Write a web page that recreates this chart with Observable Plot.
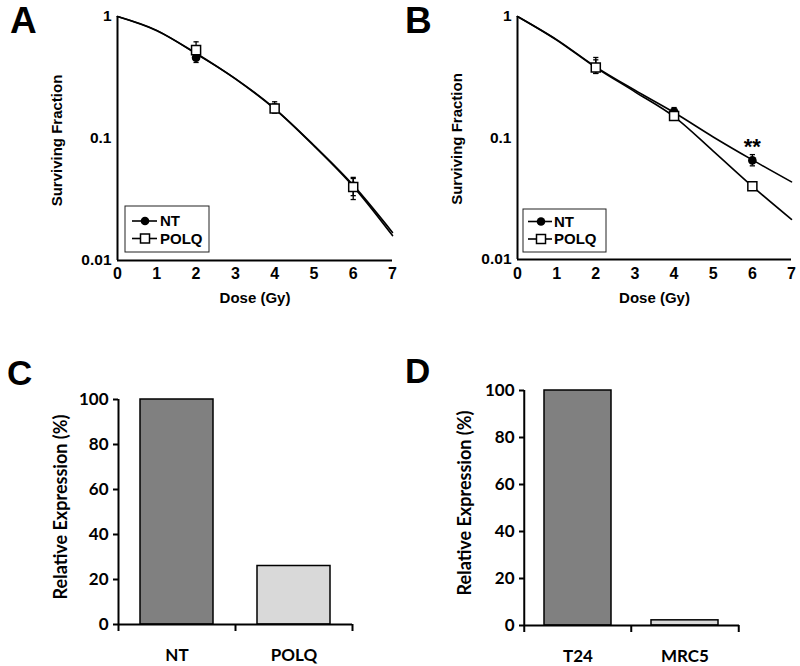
<!DOCTYPE html>
<html><head><meta charset="utf-8">
<script src="https://cdn.jsdelivr.net/npm/d3@7"></script>
<script src="https://cdn.jsdelivr.net/npm/@observablehq/plot@0.6"></script>
<style>
body{margin:0;background:#fff;}
#fig{position:relative;width:800px;height:666px;overflow:hidden;background:#fff;}
.panel{position:absolute;}
.letter{position:absolute;font-family:"Liberation Sans",Arial,sans-serif;font-weight:bold;line-height:1;color:#000;}
</style></head><body><div id="fig"></div>
<script>
// ---------- data ----------
const doses = [2, 4, 6];
const fitDoses = [0, 1, 2, 3, 4, 5, 6, 7];
const groups = ["NT", "POLQ"];
const doseTicks = [0, 1, 2, 3, 4, 5, 6, 7];
const sfTicks = [0.01, 0.1, 1];

// Panel A (surviving fraction)
const aNT = [0.46, 0.176, 0.041];
const aNTLo = [0.42, 0.162, 0.034];
const aNTHi = [0.50, 0.192, 0.047];
const aPOLQ = [0.53, 0.176, 0.040];
const aPOLQLo = [0.46, 0.162, 0.0316];
const aPOLQHi = [0.62, 0.200, 0.048];
const aNTFit = [1, 0.77, 0.495, 0.31, 0.176, 0.088, 0.0415, 0.0170];
const aPOLQFit = [1, 0.765, 0.50, 0.308, 0.175, 0.087, 0.0405, 0.0160];

// Panel B (surviving fraction)
const bNT = [0.38, 0.165, 0.0654];
const bNTLo = [0.34, 0.152, 0.059];
const bNTHi = [0.44, 0.178, 0.073];
const bPOLQ = [0.38, 0.152, 0.040];
const bPOLQLo = [0.34, 0.142, 0.038];
const bPOLQHi = [0.46, 0.162, 0.042];
const bNTFit = [1, 0.645, 0.385, 0.247, 0.162, 0.102, 0.066, 0.0435];
const bPOLQFit = [1, 0.64, 0.38, 0.24, 0.150, 0.078, 0.040, 0.0214];
const bSignif = "**";

// Panels C and D (relative expression)
const cCats = ["NT", "POLQ"];
const cValues = [100, 26];
const dCats = ["T24", "MRC5"];
const dValues = [100, 2.2];
const barFills = ["#808080", "#d9d9d9"];
const pctTicks = [0, 20, 40, 60, 80, 100];

// ---------- helpers ----------
const fig = document.getElementById("fig");
const capSymbol = {draw(ctx) { ctx.moveTo(-2.6, 0); ctx.lineTo(2.6, 0); }};

function panel(left, top, node) {
  const d = document.createElement("div");
  d.className = "panel";
  d.style.left = left + "px"; d.style.top = top + "px";
  d.appendChild(node);
  fig.appendChild(d);
  return d;
}
function letter(ch, left, top, size) {
  const d = document.createElement("div");
  d.className = "letter";
  d.textContent = ch;
  d.style.left = left + "px"; d.style.top = top + "px"; d.style.fontSize = size + "px";
  fig.appendChild(d);
}

function survival(o) {
  const fitRows = [];
  o.fits.forEach((f, gi) => fitDoses.forEach((d, i) => fitRows.push({group: groups[gi], dose: d, sf: f[i]})));
  const pts = [];
  o.pts.forEach((p, gi) => doses.forEach((d, i) => pts.push({group: groups[gi], dose: d, sf: p.v[i], lo: p.lo[i], hi: p.hi[i]})));
  const marks = [
    Plot.line(fitRows, {x: "dose", y: "sf", z: "group", curve: "monotone-x", stroke: "black", strokeWidth: 1.6}),
    Plot.ruleX(pts, {x: "dose", y1: "lo", y2: "hi", stroke: "black", strokeWidth: 1.3}),
    Plot.dot(pts, {x: "dose", y: "lo", symbol: capSymbol, fill: "none", stroke: "black", strokeWidth: 1.3}),
    Plot.dot(pts, {x: "dose", y: "hi", symbol: capSymbol, fill: "none", stroke: "black", strokeWidth: 1.3}),
    Plot.dot(pts.filter(d => d.group === "NT"), {x: "dose", y: "sf", r: 4.3, fill: "black", stroke: "none"}),
    Plot.dot(pts.filter(d => d.group === "POLQ"), {x: "dose", y: "sf", symbol: "square", r: 5.1, fill: "white", stroke: "black", strokeWidth: 1.5}),
    Plot.ruleX([0], {stroke: "black", strokeWidth: 2}),
    Plot.ruleY([0.01], {stroke: "black", strokeWidth: 2}),
    Plot.axisX({ticks: doseTicks, tickSize: 0, tickPadding: o.xPad, fontSize: 16, tickFormat: d => String(d), label: null}),
    Plot.axisY({ticks: sfTicks, tickSize: 0, tickPadding: 6, fontSize: 15.5, tickFormat: d => String(d), label: null}),
    Plot.text(["Surviving Fraction"], {frameAnchor: "left", rotate: -90, dx: -60, dy: o.yLabDy, fontSize: 15, textAnchor: "middle", lineAnchor: "middle"}),
    Plot.text(["Dose (Gy)"], {frameAnchor: "bottom", dy: o.xLabDy, fontSize: 15, textAnchor: "middle", lineAnchor: "middle"})
  ];
  if (o.star) {
    marks.push(Plot.text(o.star, {x: "dose", y: "sf", text: "label", fontSize: 22, letterSpacing: 1.5, lineAnchor: "middle", dy: -8}));
  }
  const svg = Plot.plot({
    width: 400, height: 320,
    marginLeft: o.ml, marginRight: o.mr, marginTop: o.mt, marginBottom: o.mb,
    style: {fontFamily: "'Liberation Sans', Arial, sans-serif", fontSize: "15px", fontWeight: "bold", color: "black", background: "transparent", overflow: "visible"},
    x: {domain: [0, 7], label: null},
    y: {type: "log", domain: [0.01, 1], label: null},
    marks
  });
  const p = panel(o.left, 0, svg);
  // legend
  const lg = o.legend;
  const s = d3.create("svg").attr("width", 400).attr("height", 320)
    .style("position", "absolute").style("left", "0px").style("top", "0px").style("overflow", "visible");
  s.append("rect").attr("x", lg.x0).attr("y", lg.y0).attr("width", lg.w).attr("height", lg.h)
    .attr("fill", "white").attr("stroke", "#222").attr("stroke-width", 1);
  groups.forEach((g, i) => {
    const y = lg.rows[i];
    s.append("line").attr("x1", lg.l1).attr("x2", lg.l2).attr("y1", y).attr("y2", y).attr("stroke", "black").attr("stroke-width", 1.6);
    if (g === "NT") s.append("circle").attr("cx", lg.mx).attr("cy", y).attr("r", 4.3).attr("fill", "black");
    else s.append("rect").attr("x", lg.mx - 4.5).attr("y", y - 4.5).attr("width", 9).attr("height", 9).attr("fill", "white").attr("stroke", "black").attr("stroke-width", 1.5);
    s.append("text").attr("x", lg.tx).attr("y", y).attr("dy", "0.36em").text(g)
      .attr("font-family", "'Liberation Sans', Arial, sans-serif").attr("font-size", 15).attr("font-weight", "bold");
  });
  p.appendChild(s.node());
}

function bars(o) {
  const rows = o.cats.map((c, i) => ({cat: c, value: o.values[i], fill: barFills[i]}));
  const step = (400 - o.ml - o.mr) / o.cats.length;
  const svg = Plot.plot({
    width: 400, height: 346,
    marginLeft: o.ml, marginRight: o.mr, marginTop: o.mt, marginBottom: o.mb,
    style: {fontFamily: "Lato, 'Open Sans', sans-serif", fontSize: "17px", fontWeight: "bold", color: "black", background: "transparent", overflow: "visible"},
    x: {domain: o.cats, paddingInner: o.pad, paddingOuter: o.pad / 2, label: null},
    y: {domain: [0, 100], label: null},
    color: {type: "identity"},
    marks: [
      Plot.barY(rows, {x: "cat", y: "value", fill: "fill", stroke: "black", strokeWidth: 1.5}),
      Plot.ruleY([0], {stroke: "black", strokeWidth: 2}),
      Plot.ruleX([o.cats[0]], {x: d => d, dx: -step / 2, y1: 0, y2: 100, stroke: "black", strokeWidth: 2}),
      Plot.axisY({ticks: pctTicks, tickSize: 5, tickPadding: 5, strokeWidth: 2, label: null}),
      Plot.axisX({tickSize: 0, tickPadding: 24, label: null}),
      Plot.axisX({tickSize: 7, tickFormat: () => "", dx: -step / 2, strokeWidth: 2, label: null}),
      Plot.axisX({ticks: [o.cats[o.cats.length - 1]], tickSize: 7, tickFormat: () => "", dx: step / 2, strokeWidth: 2, label: null}),
      Plot.text(["Relative Expression (%)"], {frameAnchor: "left", rotate: -90, dx: o.labDx, dy: -5, fontSize: 18, textAnchor: "middle", lineAnchor: "middle"})
    ]
  });
  panel(o.left, 320, svg);
}

// ---------- build ----------
survival({
  left: 0, ml: 117, mr: 8, mt: 16, mb: 60, xPad: 7, xLabDy: 38, yLabDy: 2,
  fits: [aNTFit, aPOLQFit],
  pts: [{v: aNT, lo: aNTLo, hi: aNTHi}, {v: aPOLQ, lo: aPOLQLo, hi: aPOLQHi}],
  legend: {x0: 125, y0: 206, w: 84, h: 46, rows: [221, 238.5], l1: 132, l2: 157, mx: 145, tx: 160}
});
survival({
  left: 400, ml: 117, mr: 9, mt: 16, mb: 61, xPad: 8, xLabDy: 39, yLabDy: 1,
  fits: [bNTFit, bPOLQFit],
  pts: [{v: bNT, lo: bNTLo, hi: bNTHi}, {v: bPOLQ, lo: bPOLQLo, hi: bPOLQHi}],
  star: [{dose: doses[2], sf: bNTHi[2], label: bSignif}],
  legend: {x0: 123, y0: 209, w: 83, h: 43, rows: [221.5, 239], l1: 128, l2: 152, mx: 141, tx: 154}
});
bars({left: 0, cats: cCats, values: cValues, ml: 118, mr: 48, mt: 79, mb: 42, pad: 0.38, labDx: -57});
bars({left: 400, cats: dCats, values: dValues, ml: 124, mr: 61, mt: 70, mb: 41, pad: 0.37, labDx: -59});

letter("A", 10, 2, 37);
letter("B", 405, 2, 37);
letter("C", 7, 355, 35);
letter("D", 405, 353, 35);
</script></body></html>
